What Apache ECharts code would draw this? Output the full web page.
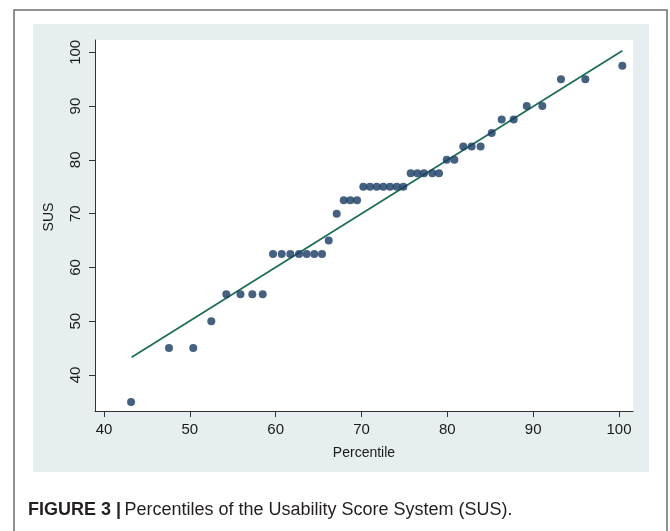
<!DOCTYPE html>
<html>
<head>
<meta charset="utf-8">
<script src="https://cdn.jsdelivr.net/npm/echarts@6/dist/echarts.min.js"></script>
<style>html,body{margin:0;padding:0;background:#fff;}#c{width:670px;height:531px;}</style>
</head>
<body>
<div id="c"></div>
<script>
// Percentile (x) and SUS score (y) of each participant
const pctX = [43.15, 47.57, 50.40, 52.50, 54.25, 55.90, 57.28, 58.49,
  59.69, 60.70, 61.71, 62.72, 63.61, 64.50, 65.40, 66.18, 67.11,
  67.93, 68.70, 69.48, 70.21, 70.99, 71.77, 72.54, 73.32, 74.10, 74.87,
  75.73, 76.51, 77.28, 78.25, 79.03, 79.93, 80.82, 81.86, 82.83, 83.88,
  85.17, 86.33, 87.73, 89.25, 91.07, 93.24, 96.08, 100.39];
const susY = [35, 45, 45, 50, 55, 55, 55, 55,
  62.5, 62.5, 62.5, 62.5, 62.5, 62.5, 62.5, 65, 70,
  72.5, 72.5, 72.5, 75, 75, 75, 75, 75, 75, 75,
  77.5, 77.5, 77.5, 77.5, 77.5, 80, 80, 82.5, 82.5, 82.5,
  85, 87.5, 87.5, 90, 90, 95, 95, 97.5];
// fitted line end points
const fitX = [43.22, 100.39];
const fitY = [43.29, 100.30];
const xTicks = [40, 50, 60, 70, 80, 90, 100];
const yTicks = [40, 50, 60, 70, 80, 90, 100];

const FONT = '"Liberation Sans", Arial, Helvetica, sans-serif';
const chart = echarts.init(document.getElementById('c'), null, {renderer: 'canvas'});
chart.setOption({
  backgroundColor: '#ffffff',
  animation: false,
  graphic: [
    {type: 'rect', z: -20, silent: true, shape: {x: 14, y: 10, width: 653, height: 560},
     style: {fill: '#ffffff', stroke: '#6e6e6e', lineWidth: 1.5}},
    {type: 'rect', z: -10, silent: true, shape: {x: 33, y: 24, width: 616, height: 448},
     style: {fill: '#e6eef0'}},
    {type: 'text', left: 28, top: 501, silent: true,
     style: {
       text: '{b|FIGURE 3 |} {r|Percentiles of the Usability Score System (SUS).}',
       rich: {
         b: {fontFamily: FONT, fontWeight: 'bold', fontSize: 18, fill: '#231f20'},
         r: {fontFamily: FONT, fontSize: 18, fill: '#231f20'}
       }
     }}
  ],
  grid: {left: 95, right: 37, top: 40, bottom: 120, show: true, backgroundColor: '#ffffff', borderWidth: 0},
  xAxis: {
    type: 'value', min: 38.951, max: 101.631,
    name: 'Percentile', nameLocation: 'middle', nameGap: 35,
    nameTextStyle: {fontFamily: FONT, fontSize: 14, color: '#1a1a1a'},
    axisLine: {show: true, lineStyle: {color: '#333', width: 1}},
    axisTick: {show: true, length: 6, lineStyle: {color: '#333'}, customValues: xTicks},
    axisLabel: {fontFamily: FONT, fontSize: 15, color: '#1a1a1a', margin: 11, customValues: xTicks},
    splitLine: {show: false}
  },
  yAxis: {
    type: 'value', min: 33.306, max: 102.287,
    name: 'SUS', nameLocation: 'middle', nameGap: 39,
    nameTextStyle: {fontFamily: FONT, fontSize: 14, color: '#1a1a1a', padding: [0, 0, 0, 17]},
    axisLine: {show: true, lineStyle: {color: '#333', width: 1}},
    axisTick: {show: true, length: 6, lineStyle: {color: '#333'}, customValues: yTicks},
    axisLabel: {fontFamily: FONT, fontSize: 15, color: '#1a1a1a', margin: 12, rotate: 90, customValues: yTicks},
    splitLine: {show: false}
  },
  series: [
    {type: 'line', data: fitX.map((x, i) => [x, fitY[i]]), showSymbol: false, symbol: 'none',
     lineStyle: {color: '#1f6f57', width: 1.8}, z: 2},
    {type: 'scatter', data: pctX.map((x, i) => [x, susY[i]]), symbol: 'circle', symbolSize: 8,
     itemStyle: {color: '#163a61'}, z: 3}
  ]
});
</script>
</body>
</html>
